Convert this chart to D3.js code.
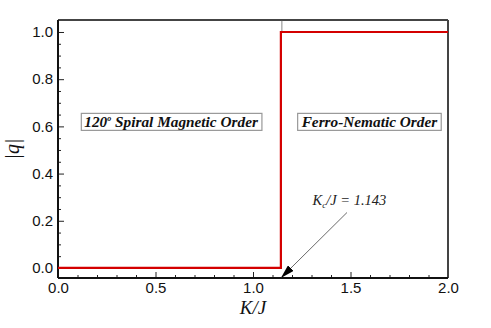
<!DOCTYPE html>
<html>
<head>
<meta charset="utf-8">
<script src="https://cdn.jsdelivr.net/npm/d3@7"></script>
<style>
  body { margin: 0; background: #fff; }
  text { font-family: "Liberation Sans", Arial, sans-serif; }
  .serif { font-family: "Liberation Serif", "Times New Roman", serif; }
</style>
</head>
<body>
<div id="chart"></div>
<script>
// data
const kc = 1.143
const kValues = [0, kc, kc, 2.0]
const qValues = [0, 0, 1, 1]
const xTicks = [0, 0.5, 1.0, 1.5, 2.0]
const yTicks = [0, 0.2, 0.4, 0.6, 0.8, 1.0]

const width = 491
const height = 328
const margin = {top: 20, right: 43, bottom: 50, left: 58}
const innerW = width - margin.left - margin.right
const innerH = height - margin.top - margin.bottom

const svg = d3.select("#chart")
    .append("svg")
    .attr("width", width)
    .attr("height", height)

const g = svg.append("g")
    .attr("transform", `translate(${margin.left}, ${margin.top})`)

const x = d3.scaleLinear().domain([0, 2]).range([0, innerW])
const y = d3.scaleLinear().domain([-0.0425, 1.0508]).range([innerH, 0])

// minor ticks
const xMinor = d3.range(0, 2.0001, 0.1).filter(v => Math.abs(v * 2 - Math.round(v * 2)) > 1e-6)
const yMinor = d3.range(0, 1.0001, 0.05).filter(v => Math.abs(v * 5 - Math.round(v * 5)) > 1e-6)

const xAxis = g.append("g")
    .attr("transform", `translate(0, ${innerH})`)
    .call(d3.axisBottom(x).tickValues(xTicks).tickSize(-6).tickPadding(4).tickFormat(d3.format(".1f")))
xAxis.append("g")
    .call(d3.axisBottom(x).tickValues(xMinor).tickSize(-3).tickFormat(""))

const yAxis = g.append("g")
    .call(d3.axisLeft(y).tickValues(yTicks).tickSize(-6).tickPadding(5).tickFormat(d3.format(".1f")))
yAxis.append("g")
    .call(d3.axisLeft(y).tickValues(yMinor).tickSize(-3).tickFormat(""))

g.selectAll(".domain").remove()
g.selectAll(".tick line").attr("stroke", "#222").attr("stroke-width", 1)
g.selectAll(".tick text").attr("font-size", 15).attr("fill", "#111")
    .attr("font-family", "'Liberation Sans', Arial, sans-serif")

// frame: top/right gray, bottom/left black
g.append("line").attr("x1", 0).attr("x2", innerW).attr("y1", 0).attr("y2", 0)
    .attr("stroke", "#444").attr("stroke-width", 2)
g.append("line").attr("x1", innerW).attr("x2", innerW).attr("y1", 0).attr("y2", innerH)
    .attr("stroke", "#444").attr("stroke-width", 2)
g.append("line").attr("x1", 0).attr("x2", innerW).attr("y1", innerH).attr("y2", innerH)
    .attr("stroke", "#111").attr("stroke-width", 2)
g.append("line").attr("x1", 0).attr("x2", 0).attr("y1", 0).attr("y2", innerH)
    .attr("stroke", "#111").attr("stroke-width", 2)

// thin guide at Kc
g.append("line")
    .attr("x1", x(kc) + 1).attr("x2", x(kc) + 1)
    .attr("y1", 0).attr("y2", y(1))
    .attr("stroke", "#555").attr("stroke-width", 0.7)

// step line
const pts = kValues.map((k, i) => [k, qValues[i]])
g.append("path")
    .datum(pts)
    .attr("fill", "none")
    .attr("stroke", "#d40000")
    .attr("stroke-width", 2.2)
    .attr("d", d3.line().x(d => x(d[0])).y(d => y(d[1])))

// region labels
function boxLabel(cx, cy, build) {
    const lg = g.append("g")
    const r = lg.append("rect")
    const t = lg.append("text")
        .attr("class", "serif")
        .attr("x", cx).attr("y", cy)
        .attr("text-anchor", "middle")
        .attr("font-size", 15.3)
        .attr("font-weight", "bold")
        .attr("font-style", "italic")
        .attr("fill", "#111")
    build(t)
    const bb = t.node().getBBox()
    r.attr("x", bb.x - 3).attr("y", bb.y)
        .attr("width", bb.width + 6).attr("height", bb.height)
        .attr("fill", "#fff")
        .attr("stroke", "#999")
        .attr("stroke-width", 1.2)
}

boxLabel(x(0.58), y(0.6) + 1, t => {
    t.append("tspan").text("120")
    t.append("tspan").text("o").attr("font-size", 8).attr("dy", -6)
    t.append("tspan").text(" Spiral Magnetic Order").attr("dy", 6)
})
boxLabel(x(1.597), y(0.6) + 1, t => {
    t.text("Ferro-Nematic Order")
})

// annotation
const ann = g.append("text")
    .attr("class", "serif")
    .attr("x", x(1.305)).attr("y", y(0.266))
    .attr("font-size", 14.5)
    .attr("font-style", "italic")
    .attr("fill", "#222")
ann.append("tspan").text("K")
ann.append("tspan").text("c").attr("font-size", 9).attr("dy", 3)
ann.append("tspan").text("/J = 1.143").attr("dy", -3)

svg.append("defs").append("marker")
    .attr("id", "arrow")
    .attr("viewBox", "0 0 14 8")
    .attr("refX", 14).attr("refY", 4)
    .attr("markerWidth", 14).attr("markerHeight", 8)
    .attr("markerUnits", "userSpaceOnUse")
    .attr("orient", "auto")
    .append("path")
    .attr("d", "M0,0 L14,4 L0,8 Z")
    .attr("fill", "#000")

g.append("line")
    .attr("x1", x(1.482)).attr("y1", y(0.235))
    .attr("x2", x(kc)).attr("y2", innerH)
    .attr("stroke", "#444").attr("stroke-width", 0.8)
    .attr("marker-end", "url(#arrow)")

// axis titles
svg.append("text")
    .attr("class", "serif")
    .attr("x", margin.left + innerW / 2).attr("y", 314)
    .attr("text-anchor", "middle")
    .attr("font-size", 19)
    .attr("font-style", "italic")
    .attr("fill", "#111")
    .text("K/J")

svg.append("text")
    .attr("class", "serif")
    .attr("transform", "translate(19, 149) rotate(-90)")
    .attr("text-anchor", "middle")
    .attr("font-size", 20)
    .attr("font-style", "italic")
    .attr("fill", "#111")
    .text("|q|")
</script>
</body>
</html>
